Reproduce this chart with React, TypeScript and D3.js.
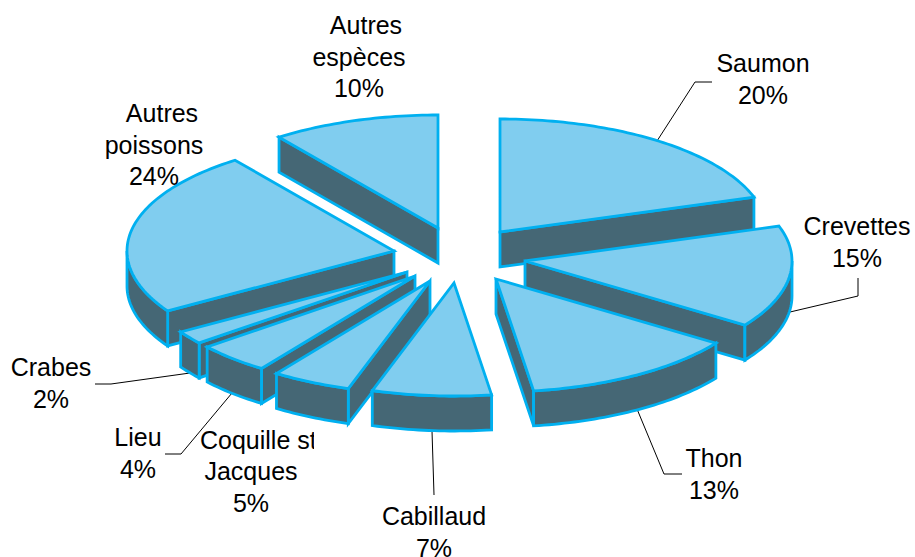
import React from "react";
import * as d3 from "d3";

const categories = ["Saumon", "Crevettes", "Thon", "Cabillaud", "Coquille st Jacques", "Lieu", "Crabes", "Autres poissons", "Autres espèces"];
const shares = [20, 14.6, 13.15, 7.2, 4.8, 4.45, 1.9, 23.75, 10.15];

// Layout: how far each slice is pulled out of the pie, painting order, and labels.
const explodeX = [35, 60, 31, -11, -35, -50, -58, -71, -27];
const explodeY = [-23, 6, 24, 28, 26, 21, 17, -4, -27];
const paintOrder = ["Autres espèces", "Saumon", "Autres poissons", "Crevettes", "Thon", "Crabes", "Lieu", "Coquille st Jacques", "Cabillaud"];
const labelLines = [["Saumon", "20%"], ["Crevettes", "15%"], ["Thon", "13%"], ["Cabillaud", "7%"], ["Jacques", "5%"], ["Lieu", "4%"], ["Crabes", "2%"], ["Autres", "poissons", "24%"], ["Autres", "espèces", "10%"]];
const labelX = [763, 857, 714, 434, 251, 138, 51, 154, 359];
const labelY = [72, 235, 467, 525, 480, 446, 376, 122, 34];
const lineShift = [[0, 0], [0, 0], [0, 0], [0, 0], [0, 0], [0, 0], [0, 0], [8, 0, 0], [7, 0, 0]];
const leaders = [
  [[657, 141], [695, 82], [712, 82]],
  [[790, 312], [858, 296], [858, 278]],
  [[637, 409], [664, 474], [682, 474]],
  [[432, 431], [434, 495]],
  [[190, 373], [111, 384], [95, 384]],
  [[232, 393], [181, 454], [165, 454]],
];

const W = 915, H = 557, CX = 465, CY = 255, RX = 267, RY = 113, DEPTH = 35;
const TOP = "#80CDEF", WALL = "#456775", EDGE = "#00B0F0";

const sx = d3.scaleLinear().domain([-1, 1]).range([-RX, RX]);
const sy = d3.scaleLinear().domain([-1, 1]).range([-RY, RY]);
const lineGen = d3.line<[number, number]>().x(d => d[0]).y(d => d[1]);
const closed = (pts: [number, number][]) => lineGen(pts) + "Z";

const arcs = d3.pie<number>().sort(null).startAngle(0).endAngle(2 * Math.PI)(shares);

const rim = (a0: number, a1: number, ox: number, oy: number): [number, number][] => {
  const n = Math.max(2, Math.ceil((a1 - a0) / 0.02));
  return d3.range(n + 1).map(i => {
    const a = a0 + ((a1 - a0) * i) / n;
    return [ox + sx(Math.sin(a)), oy + sy(-Math.cos(a))] as [number, number];
  });
};
const drop = (pts: [number, number][]) => pts.map(p => [p[0], p[1] + DEPTH] as [number, number]);

function Slice({ i }: { i: number }) {
  const { startAngle: a0, endAngle: a1 } = arcs[i];
  const ox = CX + explodeX[i], oy = CY + explodeY[i];
  const apex: [number, number] = [ox, oy];
  const outer = rim(a0, a1, ox, oy);
  const walls: [number, number][][] = [];
  if (Math.sin(a0) < -1e-6) {
    const e: [number, number][] = [apex, outer[0]];
    walls.push([...e, ...drop(e).reverse()]);
  }
  if (Math.sin(a1) > 1e-6) {
    const e: [number, number][] = [apex, outer[outer.length - 1]];
    walls.push([...e, ...drop(e).reverse()]);
  }
  const f0 = Math.max(a0, Math.PI / 2), f1 = Math.min(a1, 1.5 * Math.PI);
  if (f1 > f0) {
    const e = rim(f0, f1, ox, oy);
    walls.push([...e, ...drop(e).reverse()]);
  }
  const stroke = { stroke: EDGE, strokeWidth: 2.8, strokeLinejoin: "miter" as const, strokeMiterlimit: 4 };
  return (
    <g>
      {walls.map((w, k) => <path key={k} d={closed(w)} fill={WALL} {...stroke} />)}
      <path d={closed([apex, ...outer])} fill={TOP} {...stroke} />
    </g>
  );
}

export default function App() {
  return (
    <svg width={W} height={H} viewBox={`0 0 ${W} ${H}`} style={{ position: "absolute", left: 0, top: 0, background: "#fff" }}
      fontFamily="'Liberation Sans', Arial, sans-serif" fontSize={25} fill="#000">
      <defs>
        <clipPath id="coquille"><rect x={190} y={420} width={124} height={40} /></clipPath>
      </defs>
      {leaders.map((l, k) => (
        <path key={k} d={lineGen(l as [number, number][]) as string} fill="none" stroke="#000" strokeWidth={1} />
      ))}
      {paintOrder.map(name => <Slice key={name} i={categories.indexOf(name)} />)}
      {categories.map((c, i) => (
        <text key={c} textAnchor="middle">
          {labelLines[i].map((t, k) => (
            <tspan key={k} x={labelX[i] + lineShift[i][k]} y={labelY[i] + k * 31.7}>{t}</tspan>
          ))}
        </text>
      ))}
      <text x={200} y={449} clipPath="url(#coquille)">Coquille st</text>
    </svg>
  );
}
